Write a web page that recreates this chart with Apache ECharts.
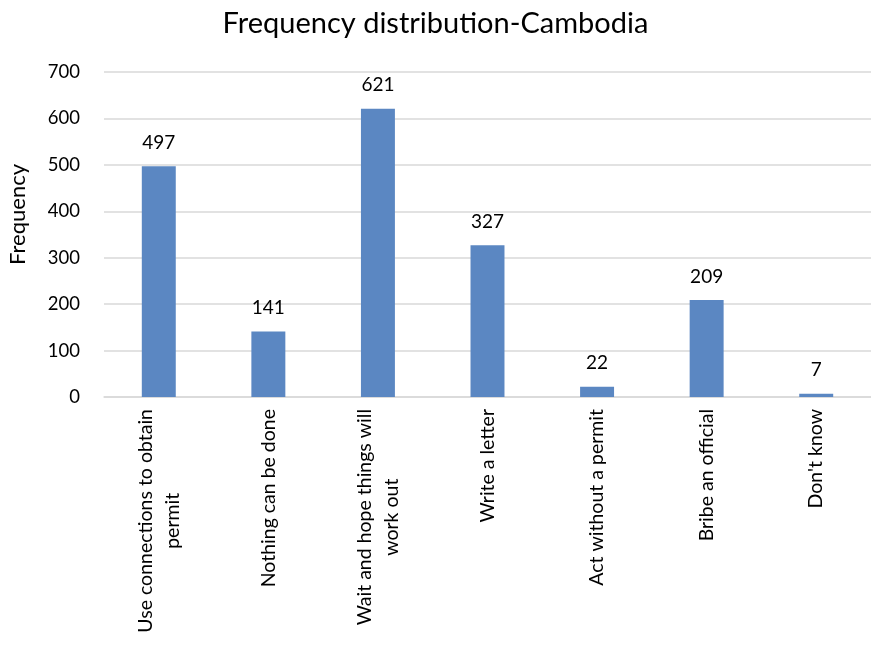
<!DOCTYPE html>
<html>
<head>
<meta charset="utf-8">
<script src="https://cdn.jsdelivr.net/npm/echarts@6/dist/echarts.min.js"></script>
<style>
  html, body { margin: 0; padding: 0; background: #fff; }
  #chart { width: 871px; height: 659px; }
</style>
</head>
<body>
<div id="chart"></div>
<script>
const categories = [
  "Use connections to obtain\npermit",
  "Nothing can be done",
  "Wait and hope things will\nwork out",
  "Write a letter",
  "Act without a permit",
  "Bribe an official",
  "Don't know",
];
const frequency = [497, 141, 621, 327, 22, 209, 7];
const yTicks = { min: 0, max: 700, interval: 100 };

const font = "Lato, 'Open Sans', sans-serif";
const chart = echarts.init(document.getElementById("chart"));

chart.setOption({
  backgroundColor: "#fff",
  animation: false,
  title: {
    text: "Frequency distribution-Cambodia",
    left: "center",
    top: 4,
    textStyle: { fontFamily: font, fontSize: 29, fontWeight: "normal", color: "#000" },
  },
  grid: { left: 104, right: 0, top: 72, bottom: 262 },
  xAxis: {
    type: "category",
    data: categories,
    axisLine: { lineStyle: { color: "#D9D9D9", width: 1.5 } },
    axisTick: { show: false },
    axisLabel: {
      interval: 0,
      rotate: 90,
      margin: 12,
      fontFamily: font,
      fontSize: 19.5,
      color: "#000",
      formatter: (v) => v.split("\n").map((s) => "{c|" + s + "}").join("\n"),
      rich: { c: { align: "center", fontFamily: font, fontSize: 19.5, color: "#000", lineHeight: 27 } },
    },
  },
  yAxis: {
    type: "value",
    min: yTicks.min,
    max: yTicks.max,
    interval: yTicks.interval,
    axisLine: { show: false },
    axisTick: { show: false },
    axisLabel: { margin: 24, fontFamily: font, fontSize: 18.5, color: "#000" },
    splitLine: { lineStyle: { color: "#D9D9D9", width: 1.5 } },
  },
  graphic: [{
    type: "text",
    left: 7,
    top: 164,
    rotation: Math.PI / 2,
    style: { text: "Frequency", fontFamily: font, fontSize: 22, fill: "#000" },
  }],
  series: [{
    type: "bar",
    data: frequency,
    barWidth: "31%",
    itemStyle: { color: "#5B87C2" },
    label: {
      show: true,
      position: "top",
      distance: 14,
      fontFamily: font,
      fontSize: 19,
      color: "#000",
    },
  }],
});
</script>
</body>
</html>
